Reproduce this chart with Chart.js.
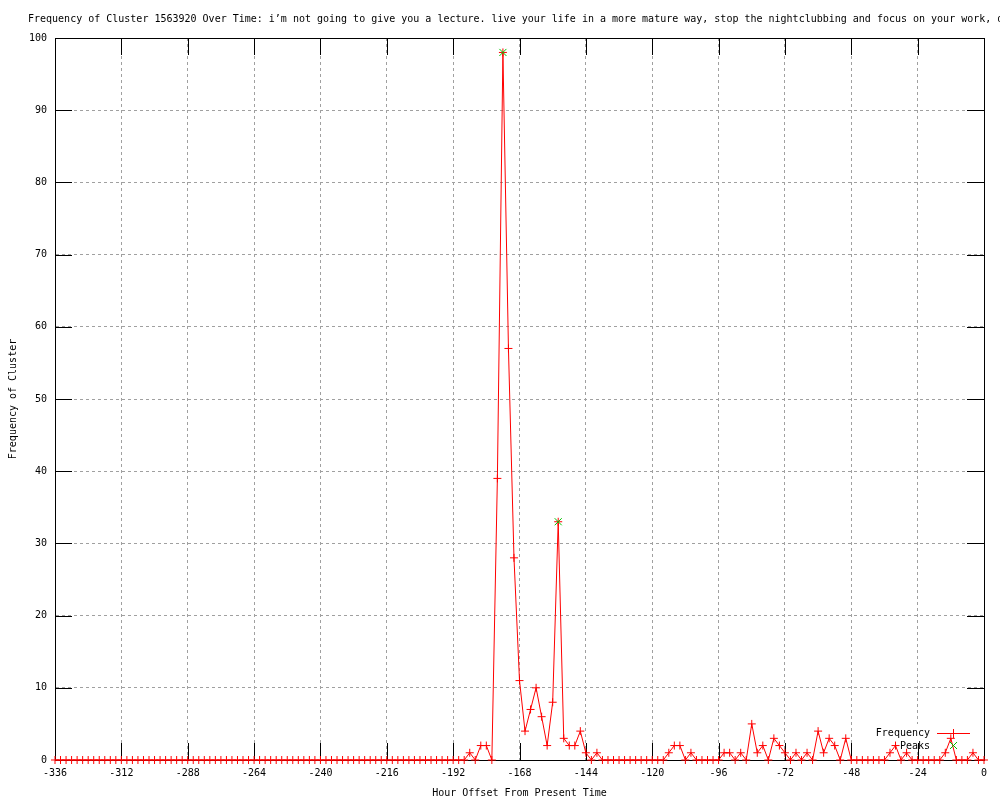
<!DOCTYPE html>
<html>
<head>
<meta charset="utf-8">
<title>Frequency of Cluster 1563920</title>
<script src="https://cdn.jsdelivr.net/npm/chart.js@4.4.1/dist/chart.umd.min.js"></script>
<style>
  html, body { margin: 0; padding: 0; background: #fff; }
  #wrap { width: 1000px; height: 800px; }
</style>
</head>
<body>
<div id="wrap"><canvas id="clusterChart" width="1000" height="800"></canvas></div>
<script>
// hour offsets run from startHour to 0 in steps of stepHours
const startHour = -336;
const stepHours = 2;

// one value per 2-hour bin, -336 .. 0 (12 bins per row = 24 hours)
const frequency = [
  0, 0, 0, 0, 0, 0, 0, 0, 0, 0, 0, 0,      // -336 .. -314
  0, 0, 0, 0, 0, 0, 0, 0, 0, 0, 0, 0,      // -312 .. -290
  0, 0, 0, 0, 0, 0, 0, 0, 0, 0, 0, 0,      // -288 .. -266
  0, 0, 0, 0, 0, 0, 0, 0, 0, 0, 0, 0,      // -264 .. -242
  0, 0, 0, 0, 0, 0, 0, 0, 0, 0, 0, 0,      // -240 .. -218
  0, 0, 0, 0, 0, 0, 0, 0, 0, 0, 0, 0,      // -216 .. -194
  0, 0, 0, 1, 0, 2, 2, 0, 39, 98, 57, 28,  // -192 .. -170
  11, 4, 7, 10, 6, 2, 8, 33, 3, 2, 2, 4,   // -168 .. -146
  1, 0, 1, 0, 0, 0, 0, 0, 0, 0, 0, 0,      // -144 .. -122
  0, 0, 0, 1, 2, 2, 0, 1, 0, 0, 0, 0,      // -120 .. -98
  0, 1, 1, 0, 1, 0, 5, 1, 2, 0, 3, 2,      // -96 .. -74
  1, 0, 1, 0, 1, 0, 4, 1, 3, 2, 0, 3,      // -72 .. -50
  0, 0, 0, 0, 0, 0, 0, 1, 2, 0, 1, 0,      // -48 .. -26
  0, 0, 0, 0, 0, 1, 3, 0, 0, 0, 1, 0,      // -24 .. -2
  0                                        // 0
];

const peakHours = [-174, -154];
const peakValues = [98, 33];

const xTicks = [-336, -312, -288, -264, -240, -216, -192, -168, -144, -120, -96, -72, -48, -24, 0];
const yTicks = [0, 10, 20, 30, 40, 50, 60, 70, 80, 90, 100];

const titleText = "Frequency of Cluster 1563920 Over Time: i\u2019m not going to give you a lecture. live your life in a more mature way, stop the nightclubbing and focus on your work, o";

const FONT = "DejaVu Sans Mono";
const RED = "#ff0000";
const GREEN = "#00c000";

// gnuplot-like frame: white key area, inward tics on all four sides, box
const gnuFrame = {
  id: "gnuFrame",
  beforeDatasetsDraw(chart) {
    const { ctx, chartArea: a, scales } = chart;
    const tic = 17;
    ctx.save();
    // key area hides the grid
    ctx.fillStyle = "#fff";
    ctx.fillRect(872, 724, 104, 28);

    ctx.setLineDash([]);
    ctx.strokeStyle = "#000";
    ctx.lineWidth = 1;
    ctx.beginPath();
    xTicks.forEach((v) => {
      const px = Math.round(scales.x.getPixelForValue(v)) + 0.5;
      ctx.moveTo(px, a.bottom);
      ctx.lineTo(px, a.bottom - tic);
      ctx.moveTo(px, a.top);
      ctx.lineTo(px, a.top + tic);
    });
    yTicks.forEach((v) => {
      const py = Math.round(scales.y.getPixelForValue(v)) + 0.5;
      ctx.moveTo(a.left, py);
      ctx.lineTo(a.left + tic, py);
      ctx.moveTo(a.right, py);
      ctx.lineTo(a.right - tic, py);
    });
    ctx.stroke();
    ctx.strokeRect(Math.round(a.left) + 0.5, Math.round(a.top) + 0.5,
      Math.round(a.right - a.left), Math.round(a.bottom - a.top));
    ctx.restore();
  },
  afterDatasetsDraw(chart) {
    const { ctx } = chart;
    ctx.save();
    ctx.setLineDash([]);
    ctx.font = "10px " + FONT;
    ctx.fillStyle = "#000";
    ctx.textBaseline = "middle";

    // title, left aligned and running off the right edge like the original
    ctx.textAlign = "left";
    ctx.fillText(titleText, 28, 19);

    // key
    ctx.textAlign = "right";
    ctx.fillText("Frequency", 930, 733);
    ctx.fillText("Peaks", 930, 746);
    ctx.fillStyle = RED;
    ctx.fillRect(937, 733, 33, 1);
    ctx.fillRect(953, 729, 1, 9);
    ctx.lineWidth = 1;
    ctx.strokeStyle = GREEN;
    ctx.beginPath();
    ctx.moveTo(950, 742);
    ctx.lineTo(957, 749);
    ctx.moveTo(957, 742);
    ctx.lineTo(950, 749);
    ctx.stroke();
    ctx.restore();
  },
};

document.addEventListener("DOMContentLoaded", function () {
  const canvas = document.getElementById("clusterChart");
  const ctx = canvas.getContext("2d");

  const freqPoints = frequency.map((v, i) => ({ x: startHour + i * stepHours, y: v }));
  const peakPoints = peakHours.map((h, i) => ({ x: h, y: peakValues[i] }));

  new Chart(ctx, {
    type: "line",
    data: {
      datasets: [
        {
          label: "Peaks",
          data: peakPoints,
          showLine: false,
          pointStyle: "crossRot",
          pointRadius: 5,
          pointBorderColor: GREEN,
          pointBorderWidth: 1,
          borderColor: GREEN,
          clip: false,
          order: 0,
        },
        {
          label: "Frequency",
          data: freqPoints,
          borderColor: RED,
          borderWidth: 1,
          tension: 0,
          fill: false,
          pointStyle: "cross",
          pointRadius: 4,
          pointBorderColor: RED,
          pointBorderWidth: 1,
          clip: false,
          order: 1,
        },
      ],
    },
    options: {
      responsive: false,
      animation: false,
      devicePixelRatio: 1,
      layout: { padding: { top: 38, right: 16, left: 0, bottom: 0 } },
      plugins: {
        legend: { display: false },
        title: { display: false },
        tooltip: { enabled: false },
      },
      scales: {
        x: {
          type: "linear",
          min: -336,
          max: 0,
          afterBuildTicks: (s) => { s.ticks = xTicks.map((v) => ({ value: v })); },
          afterFit: (s) => { s.height = 40; },
          grid: { color: "#a0a0a0", lineWidth: 1, drawTicks: false },
          border: { display: true, color: "#000", width: 1, dash: [3, 3] },
          ticks: {
            autoSkip: false,
            maxRotation: 0,
            padding: 7,
            color: "#000",
            font: { family: FONT, size: 10 },
            callback: (v) => String(v),
          },
          title: {
            display: true,
            text: "Hour Offset From Present Time",
            color: "#000",
            font: { family: FONT, size: 10 },
            padding: { top: 0, bottom: 1 },
          },
        },
        y: {
          type: "linear",
          min: 0,
          max: 100,
          afterBuildTicks: (s) => { s.ticks = yTicks.map((v) => ({ value: v })); },
          afterFit: (s) => { s.width = 55; },
          grid: { color: "#a0a0a0", lineWidth: 1, drawTicks: false },
          border: { display: true, color: "#000", width: 1, dash: [3, 3] },
          ticks: {
            padding: 8,
            color: "#000",
            font: { family: FONT, size: 10 },
          },
          title: {
            display: true,
            text: "Frequency of Cluster",
            color: "#000",
            font: { family: FONT, size: 10 },
            padding: { top: 7, bottom: 0 },
          },
        },
      },
    },
    plugins: [gnuFrame],
  });
});
</script>
</body>
</html>
